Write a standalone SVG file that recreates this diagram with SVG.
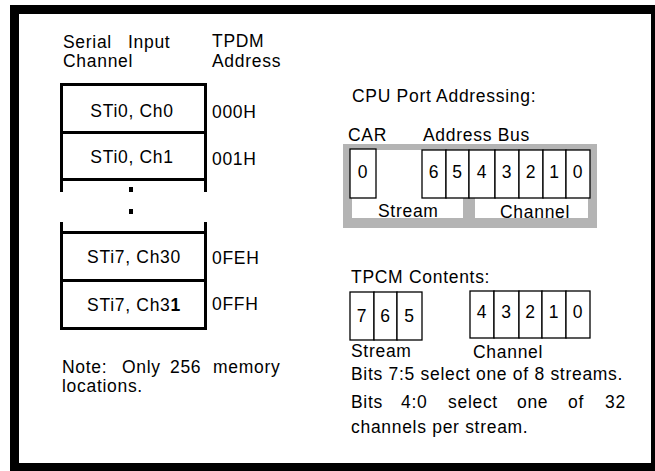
<svg xmlns="http://www.w3.org/2000/svg" width="655" height="471" viewBox="0 0 655 471">
<style>
text{font-family:"Liberation Sans",Arial,sans-serif;font-size:17.5px;letter-spacing:0.7px;fill:#000}
.c{text-anchor:middle}
.thick{fill:none;stroke:#000;stroke-width:3}
.bit{fill:#fff;stroke:#000;stroke-width:1.3}
.gray{fill:#b4b4b4}
</style>
<rect x="0" y="0" width="655" height="471" fill="#fff"/>
<rect x="14.5" y="9.5" width="641" height="458" fill="none" stroke="#000" stroke-width="9"/>

<g id="left-headers">
<text x="63" y="48">Serial</text><text x="128" y="48">Input</text>
<text x="63" y="67">Channel</text>
<text x="212" y="47">TPDM</text>
<text x="212" y="67">Address</text>
</g>

<g id="memory-table">
<path class="thick" d="M61.5,192V84.5H205.5V192M61.5,132.5H205.5M61.5,179.5H205.5"/>
<path class="thick" d="M61.5,222V328.5H205.5V222M61.5,232.5H205.5M61.5,280.5H205.5"/>
<rect x="129" y="187" width="4" height="5" fill="#000"/>
<rect x="129" y="209" width="4" height="5" fill="#000"/>
<text class="c" x="132" y="117">STi0, Ch0</text>
<text class="c" x="132" y="163">STi0, Ch1</text>
<text class="c" x="134" y="263">STi7, Ch30</text>
<text class="c" x="134" y="311">STi7, Ch3<tspan font-weight="bold">1</tspan></text>
<text x="212" y="118">000H</text>
<text x="212" y="165">001H</text>
<text x="212" y="264">0FEH</text>
<text x="212" y="310">0FFH</text>
</g>

<g id="note">
<text y="373"><tspan x="62">Note:</tspan><tspan x="122">Only</tspan><tspan x="170">256</tspan><tspan x="213">memory</tspan></text>
<text x="62" y="392">locations.</text>
</g>

<g id="cpu-port">
<text x="352" y="102">CPU Port Addressing:</text>
<text x="348" y="141">CAR</text>
<text x="423" y="141">Address Bus</text>
<rect class="gray" x="343" y="144" width="254" height="84"/>
<rect x="352" y="150" width="111" height="68" fill="#fff"/>
<rect x="475" y="150" width="113" height="68" fill="#fff"/>
<rect class="bit" x="350" y="149" width="26" height="49"/>
<rect class="bit" x="422" y="150" width="24" height="48"/>
<rect class="bit" x="446" y="150" width="23" height="48"/>
<rect class="bit" x="469" y="150" width="26" height="48"/>
<rect class="bit" x="495" y="150" width="24" height="48"/>
<rect class="bit" x="519" y="150" width="24" height="48"/>
<rect class="bit" x="543" y="150" width="23" height="48"/>
<rect class="bit" x="566" y="150" width="24" height="48"/>
<text class="c" x="363" y="178">0</text>
<text class="c" x="434" y="178">6</text>
<text class="c" x="457.5" y="178">5</text>
<text class="c" x="482" y="178">4</text>
<text class="c" x="507" y="178">3</text>
<text class="c" x="531" y="178">2</text>
<text class="c" x="554.5" y="178">1</text>
<text class="c" x="578" y="178">0</text>
<text x="378" y="217">Stream</text>
<text x="500" y="218">Channel</text>
</g>

<g id="tpcm">
<text x="351" y="283">TPCM Contents:</text>
<rect class="bit" x="350" y="292" width="24" height="48"/>
<rect class="bit" x="374" y="292" width="23" height="48"/>
<rect class="bit" x="397" y="292" width="25" height="48"/>
<rect class="bit" x="470" y="291" width="24" height="47"/>
<rect class="bit" x="494" y="291" width="25" height="47"/>
<rect class="bit" x="519" y="291" width="23" height="47"/>
<rect class="bit" x="542" y="291" width="24" height="47"/>
<rect class="bit" x="566" y="291" width="24" height="47"/>
<text class="c" x="362" y="322">7</text>
<text class="c" x="385.5" y="322">6</text>
<text class="c" x="409.5" y="322">5</text>
<text class="c" x="482" y="318">4</text>
<text class="c" x="506.5" y="318">3</text>
<text class="c" x="530.5" y="318">2</text>
<text class="c" x="554" y="318">1</text>
<text class="c" x="578" y="318">0</text>
<text x="351" y="357">Stream</text>
<text x="473" y="358">Channel</text>
</g>

<g id="bits-text">
<text x="351" y="380">Bits 7:5 select one of 8 streams.</text>
<text y="408"><tspan x="351">Bits</tspan><tspan x="401">4:0</tspan><tspan x="448">select</tspan><tspan x="517">one</tspan><tspan x="568">of</tspan><tspan x="605">32</tspan></text>
<text x="351" y="433">channels per stream.</text>
</g>
</svg>
